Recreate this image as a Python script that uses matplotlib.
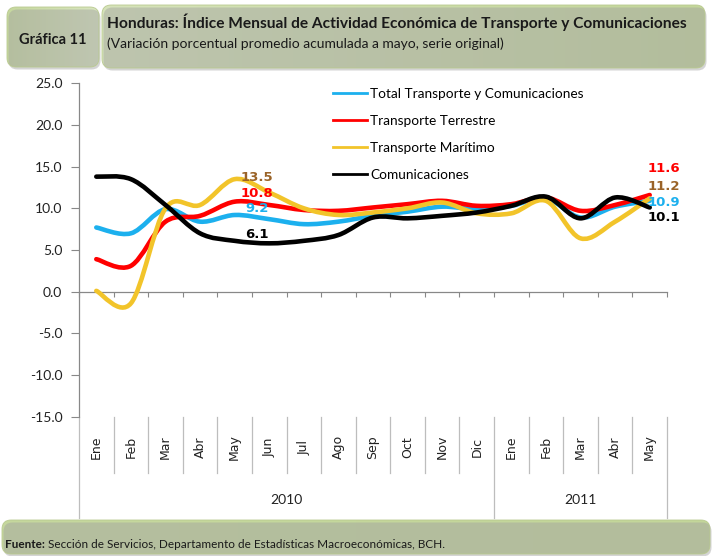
import numpy as np
import matplotlib
matplotlib.use("Agg")
import matplotlib.pyplot as plt
from matplotlib.path import Path
from matplotlib.patches import PathPatch, FancyBboxPatch
from matplotlib.lines import Line2D
import matplotlib.transforms as mtransforms

# datos
meses = ['Ene', 'Feb', 'Mar', 'Abr', 'May', 'Jun', 'Jul', 'Ago', 'Sep', 'Oct', 'Nov', 'Dic',
         'Ene', 'Feb', 'Mar', 'Abr', 'May']
anios = ['2010', '2011']
total = [7.7, 7.0, 9.9, 8.4, 9.2, 8.7, 8.1, 8.4, 9.1, 9.6, 10.2, 9.9, 10.3, 11.2, 8.9, 10.2, 10.9]
terrestre = [3.9, 3.1, 8.4, 9.1, 10.8, 10.4, 9.8, 9.7, 10.1, 10.5, 10.9, 10.3, 10.5, 11.3, 9.7, 10.4, 11.6]
maritimo = [0.1, -1.4, 10.0, 10.4, 13.5, 11.9, 10.0, 9.2, 9.5, 10.0, 10.7, 9.4, 9.4, 10.9, 6.4, 8.4, 11.2]
comunic = [13.8, 13.5, 10.4, 7.0, 6.1, 5.8, 6.1, 6.8, 8.9, 8.8, 9.1, 9.5, 10.3, 11.4, 8.8, 11.3, 10.1]

nombres = ['Total Transporte y Comunicaciones', 'Transporte Terrestre',
           'Transporte Marítimo', 'Comunicaciones']
colores = ['#1CB0EE', '#FF0000', '#F2C42A', '#000000']
cafe = '#9A6328'


def curva(x, y):
    # linea suavizada tipo Excel (bezier)
    p = np.column_stack([x, y]).astype(float)
    ext = np.vstack([p[0], p, p[-1]])
    verts = [p[0]]
    codes = [Path.MOVETO]
    for i in range(len(p) - 1):
        p0, p1, p2, p3 = ext[i], ext[i + 1], ext[i + 2], ext[i + 3]
        verts += [p1 + (p2 - p0) / 6, p2 - (p3 - p1) / 6, p2]
        codes += [Path.CURVE4] * 3
    return Path(verts, codes)


W, H = 712, 556
fig = plt.figure(figsize=(W / 100, H / 100), dpi=100)

# capa de fondo para cajas de titulo y fuente
bg = fig.add_axes([0, 0, 1, 1], zorder=0)
bg.set_xlim(0, W)
bg.set_ylim(H, 0)
bg.axis('off')


def caja(x0, y0, w, h, c1, c2):
    sombra = FancyBboxPatch((x0 + 1.5, y0 + 2.5), w, h, boxstyle='round,pad=0,rounding_size=9',
                            fc='#A0A0A0', ec='none', alpha=0.45)
    bg.add_patch(sombra)
    p = FancyBboxPatch((x0, y0), w, h, boxstyle='round,pad=0,rounding_size=9',
                       fc='none', ec='#B9C98F', lw=0.6)
    bg.add_patch(p)
    grad = np.linspace(0, 1, 256).reshape(1, -1)
    cmap = matplotlib.colors.LinearSegmentedColormap.from_list('g', [c1, c2])
    im = bg.imshow(grad, extent=[x0, x0 + w, y0 + h, y0], cmap=cmap, aspect='auto')
    im.set_clip_path(p)


caja(7, 7, 92, 60, '#C6D89E', '#D9E6C0')
caja(102, 5, 603, 63, '#D6E3BA', '#C3D69A')
caja(2, 520, 708, 34, '#C6D89E', '#C3D69A')
bg.set_xlim(0, W)
bg.set_ylim(H, 0)

bg.text(53, 40, 'Gráfica 11', fontsize=10.5, fontweight='bold', family='Lato',
        ha='center', va='center', color='#1a1a1a')
bg.text(107, 22, 'Honduras: Índice Mensual de Actividad Económica de Transporte y Comunicaciones',
        fontsize=11.2, fontweight='bold', family='Lato', va='center', color='#1a1a1a')
bg.text(107, 44, '(Variación porcentual promedio acumulada a mayo, serie original)',
        fontsize=10, family='Lato', va='center', color='#1a1a1a')
t = bg.text(5, 544, 'Fuente:', fontsize=8.5, fontweight='bold', family='Lato',
            va='center', color='#1a1a1a')
bg.annotate(' Sección de Servicios, Departamento de Estadísticas Macroeconómicas, BCH.',
            xycoords=t, xy=(1, 0.5), va='center', fontsize=8.5, family='Lato', color='#1a1a1a')

# grafico principal
ax = fig.add_axes([79 / W, 1 - 416.7 / H, 588 / W, 333.4 / H], zorder=1)
ax.set_facecolor('none')
x = np.arange(len(meses))
series = [total, terrestre, maritimo, comunic]
for i, (s, c) in enumerate(zip(series, colores)):
    ax.add_patch(PathPatch(curva(x, s), fill=False, ec=c, lw=3.3,
                           capstyle='round', joinstyle='round', zorder=3 + i))

ax.set_xlim(-0.5, len(meses) - 0.5)
ax.set_ylim(-15, 25)
ax.set_yticks(np.arange(-15, 26, 5))
ax.set_yticklabels(['%.1f' % v for v in np.arange(-15, 26, 5)], family='Lato',
                   fontsize=10, color='#222222')
ax.tick_params(axis='y', length=6, width=0.8, color='#888888', pad=6)
ax.set_xticks(np.arange(-0.5, len(meses), 1))
ax.set_xticklabels([])
ax.tick_params(axis='x', length=3.5, width=0.8, color='#888888', direction='out')
ax.spines['top'].set_visible(False)
ax.spines['right'].set_visible(False)
ax.spines['bottom'].set_position(('data', 0))
for sp in ['left', 'bottom']:
    ax.spines[sp].set_color('#888888')
    ax.spines[sp].set_linewidth(0.9)

# etiquetas de categorias
tr = mtransforms.blended_transform_factory(ax.transData, ax.transAxes)
for i, m in enumerate(meses):
    ax.text(i, -0.091, m, transform=tr, rotation=90, ha='center', va='center',
            fontsize=9, color='#222222', clip_on=False)
for b in np.arange(0.5, len(meses) - 1, 1):
    if b == 11.5:
        continue
    ax.add_line(Line2D([b, b], [0, -0.169], transform=tr, color='#BDBDBD', lw=0.9, clip_on=False))
for b in [-0.5, 11.5, len(meses) - 0.5]:
    ax.add_line(Line2D([b, b], [0, -0.305], transform=tr, color='#BDBDBD', lw=0.9, clip_on=False))
ax.text(5.5, -0.25, anios[0], transform=tr, ha='center', va='center', family='Lato',
        fontsize=10, color='#222222')
ax.text(14, -0.25, anios[1], transform=tr, ha='center', va='center', family='Lato',
        fontsize=10, color='#222222')

# etiquetas de datos
etq = [(4, maritimo[4], cafe, 16, 1), (4, terrestre[4], colores[1], 16, 6),
       (4, total[4], colores[0], 16, 5), (4, comunic[4], colores[3], 16, 4.5),
       (16, terrestre[16], colores[1], 10, 19), (16, maritimo[16], cafe, 10, 8.5),
       (16, total[16], colores[0], 10, -1.5), (16, comunic[16], colores[3], 10, -7.5)]
for xi, v, c, dx, dy in etq:
    ax.annotate('%.1f' % v, (xi, v), xytext=(dx, dy), textcoords='offset points',
                ha='center', va='center', fontsize=9.5, fontweight='bold', color=c,
                zorder=10, annotation_clip=False)

handles = [Line2D([], [], color=c, lw=2) for c in colores]
ax.legend(handles, nombres, loc='upper left', bbox_to_anchor=(333 / W, 1 - 88 / H),
          bbox_transform=fig.transFigure, frameon=False, prop={'family': 'Lato', 'size': 9.8},
          handlelength=2.5, handletextpad=0.25, labelspacing=1.1, borderpad=0, borderaxespad=0)

fig.savefig('out.png', dpi=100)
